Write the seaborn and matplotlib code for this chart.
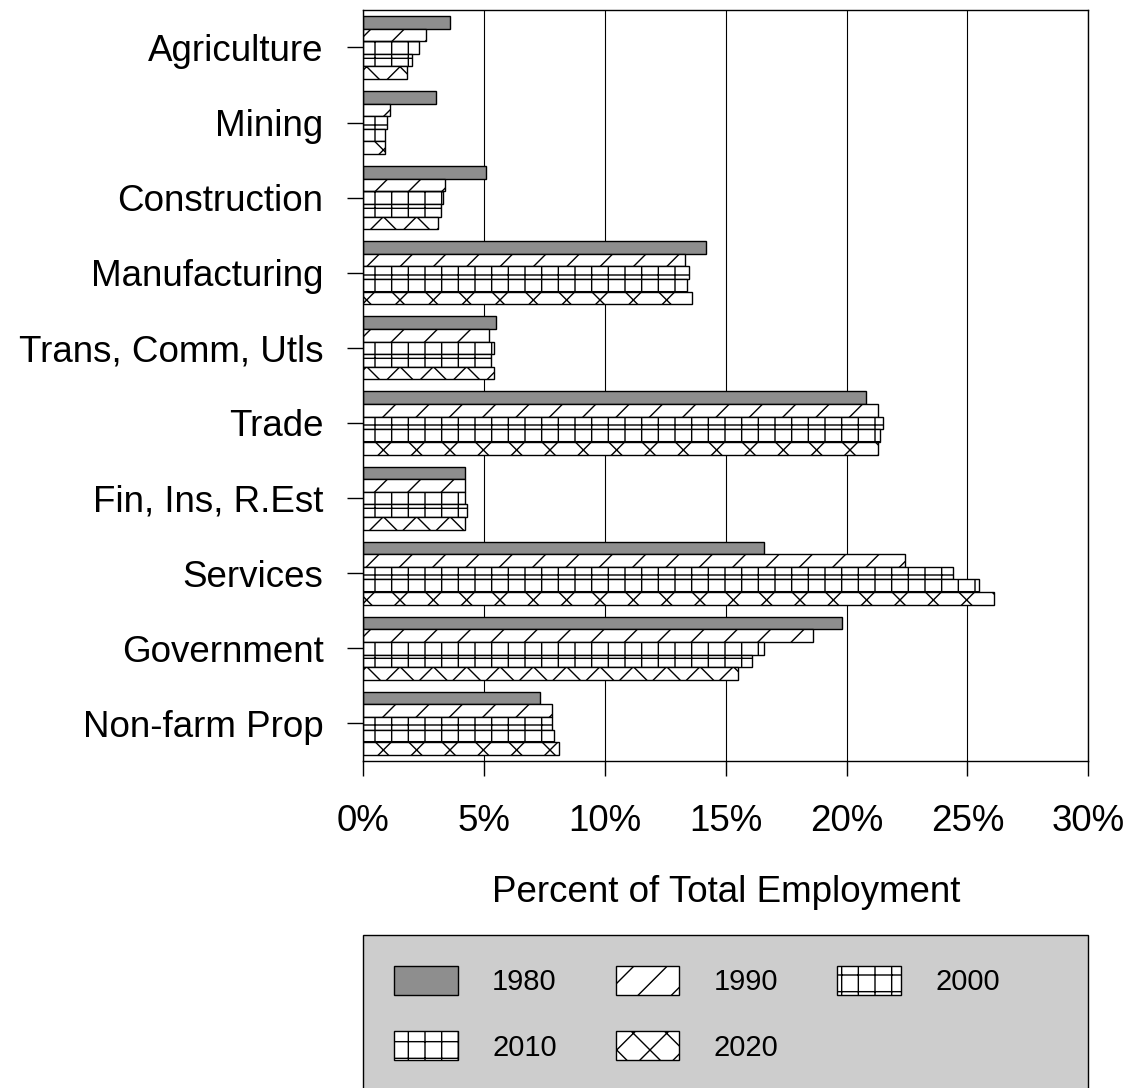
import matplotlib
matplotlib.use("Agg")
import matplotlib.pyplot as plt
import seaborn as sns
import pandas as pd
from matplotlib.patches import Patch, Rectangle
from matplotlib.ticker import PercentFormatter

# sectors, top to bottom
sectors = ["Agriculture", "Mining", "Construction", "Manufacturing",
           "Trans, Comm, Utls", "Trade", "Fin, Ins, R.Est", "Services",
           "Government", "Non-farm Prop"]
years = ["1980", "1990", "2000", "2010", "2020"]

# percent of total employment
pct_1980 = [3.6, 3.0, 5.1, 14.2, 5.5, 20.8, 4.2, 16.6, 19.8, 7.3]
pct_1990 = [2.6, 1.1, 3.4, 13.3, 5.2, 21.3, 4.2, 22.4, 18.6, 7.8]
pct_2000 = [2.3, 1.0, 3.3, 13.5, 5.4, 21.5, 4.2, 24.4, 16.6, 7.8]
pct_2010 = [2.0, 0.9, 3.2, 13.4, 5.3, 21.4, 4.3, 25.5, 16.1, 7.9]
pct_2020 = [1.8, 0.9, 3.1, 13.6, 5.4, 21.3, 4.2, 26.1, 15.5, 8.1]

x_ticks = [0, 5, 10, 15, 20, 25, 30]

rows = []
for yr, vals in zip(years, [pct_1980, pct_1990, pct_2000, pct_2010, pct_2020]):
    for s, v in zip(sectors, vals):
        rows.append({"sector": s, "year": yr, "pct": v})
df = pd.DataFrame(rows)

sns.set_style("white")
plt.rcParams['font.family'] = ['Liberation Sans', 'DejaVu Sans']
plt.rcParams['hatch.linewidth'] = 1.0
plt.rcParams['text.color'] = 'black'

fig = plt.figure(figsize=(11.35, 10.88), dpi=100)
ax = fig.add_axes([0.32, 0.3006, 0.6388, 0.6903])

sns.barplot(data=df, y="sector", x="pct", hue="year", order=sectors,
            hue_order=years, orient="h", width=0.84, gap=0,
            palette=["white"] * 5, edgecolor="black", linewidth=1.0,
            legend=False, ax=ax)

# styles per year: (face, hatch)
styles = [("#8e8e8e", ""), ("white", "/"), ("white", "+"),
          ("white", "+"), ("white", "x")]
for cont, (fc, h) in zip(ax.containers, styles):
    for bar in cont:
        bar.set_facecolor(fc)
        bar.set_hatch(h)
        bar.set_edgecolor("black")

ax.set_xlim(0, 30)
ax.set_xticks(x_ticks)
ax.xaxis.set_major_formatter(PercentFormatter(decimals=0))
ax.grid(axis="x", color="black", linewidth=0.8)
ax.set_axisbelow(True)
for sp in ax.spines.values():
    sp.set_visible(True)
    sp.set_color("black")
    sp.set_linewidth(1.0)

ax.tick_params(axis="y", length=11.5, width=1, direction="out", left=True,
               labelsize=26.5, pad=17, colors="black")
ax.tick_params(axis="x", length=11, width=1, direction="out", bottom=True,
               labelsize=26.5, pad=20, colors="black")
ax.set_ylabel("")
ax.set_xlabel("Percent of Total Employment", fontsize=26.5, labelpad=26,
              color="black")

# grey legend box behind the legend entries
fig.patches.append(Rectangle((0.3198, -0.01), 0.6388, 0.1506,
                             transform=fig.transFigure, facecolor="#cdcdcd",
                             edgecolor="black", linewidth=1.0, zorder=1))

# entries fill row by row: 1980 1990 2000 / 2010 2020
order = [0, 3, 1, 4, 2]
handles = [Patch(facecolor=styles[i][0], edgecolor="black", hatch=styles[i][1],
                 label=years[i]) for i in order]
leg = fig.legend(handles=handles, ncol=3, loc="upper left",
                 bbox_to_anchor=(394 / 1135, 1 - 966 / 1088),
                 fontsize=21, frameon=False, borderpad=0, borderaxespad=0,
                 handlelength=2.19, handleheight=1.15, handletextpad=1.17,
                 columnspacing=2.02, labelspacing=1.2)

fig.savefig("out.png", dpi=100)
